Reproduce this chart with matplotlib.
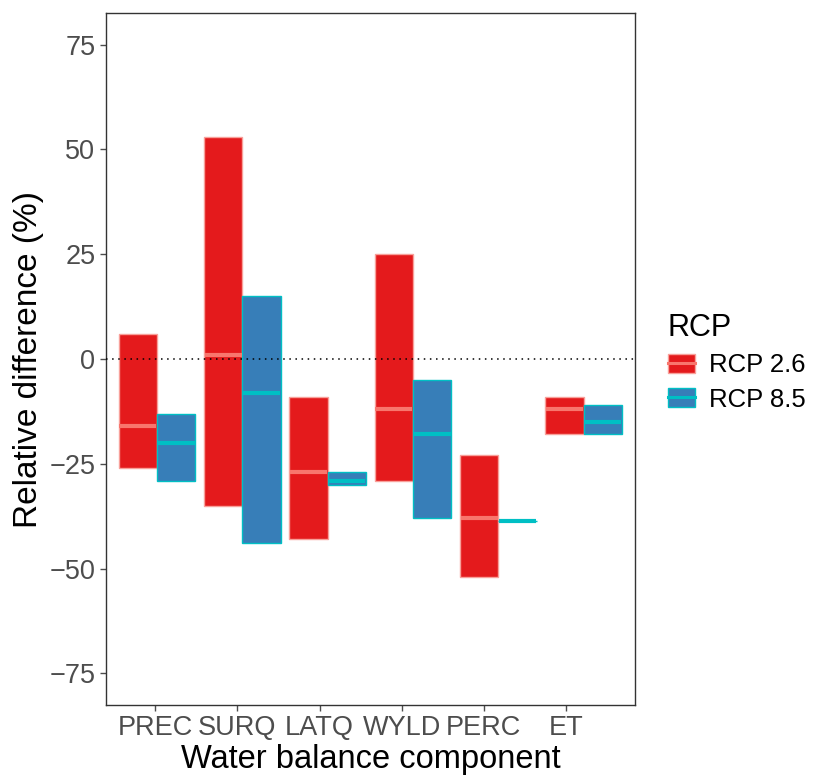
import numpy as np
import matplotlib.pyplot as plt
from matplotlib.patches import Patch
from matplotlib.lines import Line2D

plt.rcParams['font.family'] = ['Liberation Sans', 'DejaVu Sans']

# Datos
categories = ["PREC", "SURQ", "LATQ", "WYLD", "PERC", "ET"]
rcp26_min = [-26, -35, -43, -29, -52, -18]
rcp26_med = [-16, 1, -27, -12, -38, -12]
rcp26_max = [6, 53, -9, 25, -23, -9]
rcp85_min = [-29, -44, -30, -38, -38.7, -18]
rcp85_med = [-20, -8, -29, -18, -38.7, -15]
rcp85_max = [-13, 15, -27, -5, -38.7, -11]
yticks = [-75, -50, -25, 0, 25, 50, 75]

series = [
    ("RCP 2.6", rcp26_min, rcp26_med, rcp26_max, "#E41A1C", "#F8766D", "#F8A09A"),
    ("RCP 8.5", rcp85_min, rcp85_med, rcp85_max, "#377EB8", "#00BFC4", "#00BFC4"),
]

fig = plt.figure(figsize=(8.14, 7.78), dpi=100)
ax = fig.add_axes([0.130, 0.094, 0.650, 0.889])

x = np.arange(len(categories))
w = 0.45
handles = []
for k, (name, lo, med, hi, fill, medc, edge) in enumerate(series):
    pos = x + (k - 0.5) * w
    lo = np.array(lo)
    hi = np.array(hi)
    ax.bar(pos, hi - lo, bottom=lo, width=w, color=fill, edgecolor=edge,
           linewidth=1.0, zorder=2)
    ax.hlines(med, pos - w / 2 + 0.01, pos + w / 2 - 0.01, color=medc,
              linewidth=3.0, zorder=3)
    handles.append((Patch(facecolor=fill, edgecolor=edge, linewidth=1.0),
                    Line2D([0], [0], color=medc, linewidth=2.2)))

ax.axhline(0, color="black", linestyle=(0, (1, 3)), linewidth=1.1, zorder=4)

ax.set_xlim(-0.6, len(categories) - 0.4)
ax.set_ylim(-82.5, 82.5)
ax.set_yticks(yticks)
ax.set_yticklabels([str(t).replace("-", "\u2212") for t in yticks])
# las etiquetas del eje x quedan algo desplazadas respecto a las barras
ax.set_xticks(x * 0.962 - 0.02)
ax.set_xticklabels(categories)
ax.tick_params(axis="both", colors="#4D4D4D", labelsize=19.5, length=4, width=1)
for s in ax.spines.values():
    s.set_color("#333333")
    s.set_linewidth(1.0)

ax.set_xlabel("Water balance component", fontsize=23.5, labelpad=2)
ax.set_ylabel("Relative difference (%)", fontsize=24, labelpad=4)

fig.legend(handles, [s[0] for s in series], title="RCP",
           loc="upper left", bbox_to_anchor=(668 / 814, 1 - 313 / 778),
           frameon=False, fontsize=18.5, title_fontsize=22,
           borderpad=0, borderaxespad=0,
           handlelength=1.05, handleheight=0.78, handletextpad=0.55,
           labelspacing=0.4, alignment="left")

plt.savefig("out.png", dpi=100)
